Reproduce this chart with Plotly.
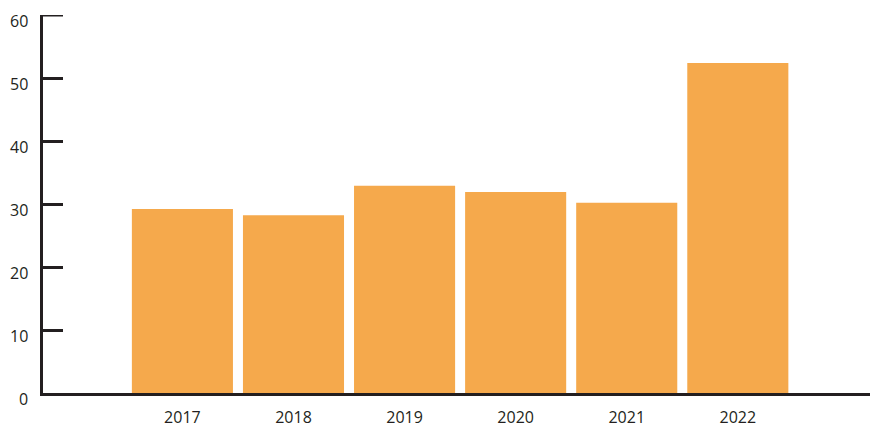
import plotly.graph_objects as go

years = ["2017", "2018", "2019", "2020", "2021", "2022"]
values = [29.2, 28.2, 32.9, 31.9, 30.2, 52.4]
y_ticks = [0, 10, 20, 30, 40, 50, 60]

ink = "#231f20"
fig = go.Figure(go.Bar(x=years, y=values, marker=dict(color="#F5A94C", line=dict(width=0))))

fig.update_layout(
    width=870, height=427,
    margin=dict(l=43, r=0, t=15, b=34, autoexpand=False),
    paper_bgcolor="white", plot_bgcolor="white",
    bargap=0.09,
    showlegend=False,
    font=dict(family="Open Sans, Liberation Sans, sans-serif", size=16, color=ink),
)
fig.update_xaxes(
    type="category", range=[-1.255, 6.19],
    showline=True, linecolor=ink, linewidth=3,
    showgrid=False, ticks="", ticklabelstandoff=8,
    tickfont=dict(size=16, color=ink),
)
fig.update_yaxes(
    range=[0, 60], tickvals=y_ticks,
    showline=True, linecolor=ink, linewidth=3,
    showgrid=False, zeroline=False,
    ticks="inside", ticklen=20, tickwidth=3, tickcolor=ink,
    showticklabels=False,
)
# top tick (drawn explicitly so it is not dropped at the range edge)
fig.add_shape(
    type="line", xref="paper", yref="y",
    xsizemode="pixel", xanchor=0, x0=0, x1=20,
    y0=y_ticks[-1], y1=y_ticks[-1],
    line=dict(color=ink, width=3), layer="above",
)
for v in y_ticks:
    fig.add_annotation(
        x=0, xref="paper", y=v, yref="y",
        text=str(v), showarrow=False,
        xanchor="right", yanchor="middle",
        xshift=-13, yshift=-6,
        font=dict(size=16, color=ink),
    )
fig.write_html(
    "out.html",
    config={"displayModeBar": False},
    post_script="document.body.style.margin='0';document.body.style.padding='0';document.body.style.overflow='hidden';",
)
